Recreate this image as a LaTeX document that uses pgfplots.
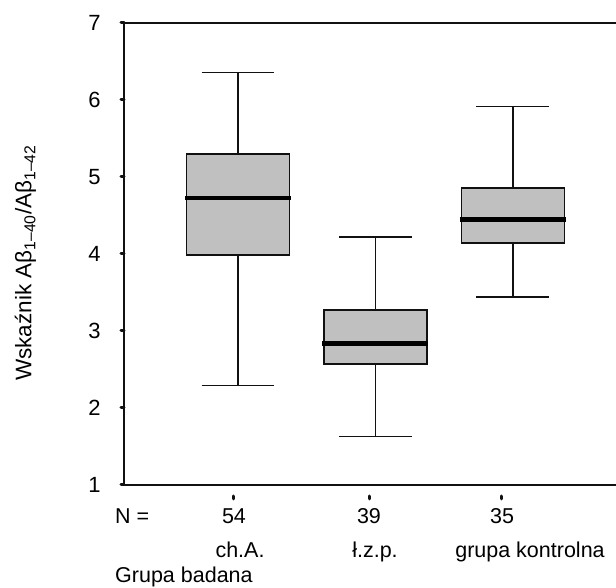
\documentclass[border=0pt]{standalone}
\usepackage{fontspec}
\setmainfont{Liberation Sans}
\usepackage{pgfplots}
\pgfplotsset{compat=1.18}
\usepgfplotslibrary{statistics}
\definecolor{boxgray}{HTML}{C0C0C0}
\definecolor{ink}{HTML}{111111}
\begin{document}
\fontsize{21.5}{25}\selectfont
\begin{tikzpicture}
\useasboundingbox (-124pt,-103pt) rectangle (492pt,485pt);
\begin{axis}[
  scale only axis, width=492pt, height=462pt,
  xmin=0.171, xmax=3.75, ymin=1, ymax=7,
  axis lines=left,
  axis line style={-, line width=2pt, ink},
  ytick={1,2,3,4,5,6,7},
  xtick={0.97,1.956,2.92}, xticklabels={,,},
  tick align=outside,
  major tick length=3pt,
  ytick style={line width=3pt, line cap=round, ink},
  xtick style={line width=3pt, line cap=round, ink, yshift=-11pt},
  yticklabel style={xshift=-13pt, font=\fontsize{22}{25}\selectfont},
  /pgf/number format/assume math mode=true,
  clip=false,
  boxplot/draw direction=y,
  boxplot/every box/.style={draw=ink, line width=1.5pt, fill=boxgray},
  boxplot/every whisker/.style={draw=ink, line width=1.3pt},
  boxplot/every median/.style={draw=black, line width=4.5pt, shorten <=-1.5pt, shorten >=-1.5pt},
]
\addplot[ink, boxplot prepared={draw position=1, median=4.73, upper quartile=5.30, lower quartile=3.99, upper whisker=6.36, lower whisker=2.29, box extend=0.75, whisker extend=0.53}] coordinates {};
\addplot[ink, boxplot prepared={draw position=2, median=2.84, upper quartile=3.27, lower quartile=2.57, upper whisker=4.22, lower whisker=1.63, box extend=0.75, whisker extend=0.53}] coordinates {};
\addplot[ink, boxplot prepared={draw position=3, median=4.45, upper quartile=4.86, lower quartile=4.14, upper whisker=5.92, lower whisker=3.44, box extend=0.75, whisker extend=0.53}] coordinates {};
\draw[line width=1.2pt, ink] (rel axis cs:0,1) -- (rel axis cs:1,1);
\end{axis}
\node[rotate=90, font=\fontsize{22.5}{26}\selectfont] at (-98.5pt,222pt) {Wskaźnik Aβ\textsubscript{1–40}/Aβ\textsubscript{1–42}};
\node[anchor=base west, inner sep=0pt] at (-9pt,-39pt) {N =};
\node[anchor=base, inner sep=0pt] at (110pt,-39pt) {54};
\node[anchor=base, inner sep=0pt] at (245pt,-39pt) {39};
\node[anchor=base, inner sep=0pt] at (378pt,-39pt) {35};
\node[anchor=base, inner sep=0pt] at (116pt,-73pt) {ch.A.};
\node[anchor=base, inner sep=0pt] at (251pt,-73pt) {ł.z.p.};
\node[anchor=base, inner sep=0pt] at (406pt,-73pt) {grupa kontrolna};
\node[anchor=base west, inner sep=0pt] at (-9pt,-97.5pt) {Grupa badana};
\end{tikzpicture}
\end{document}
